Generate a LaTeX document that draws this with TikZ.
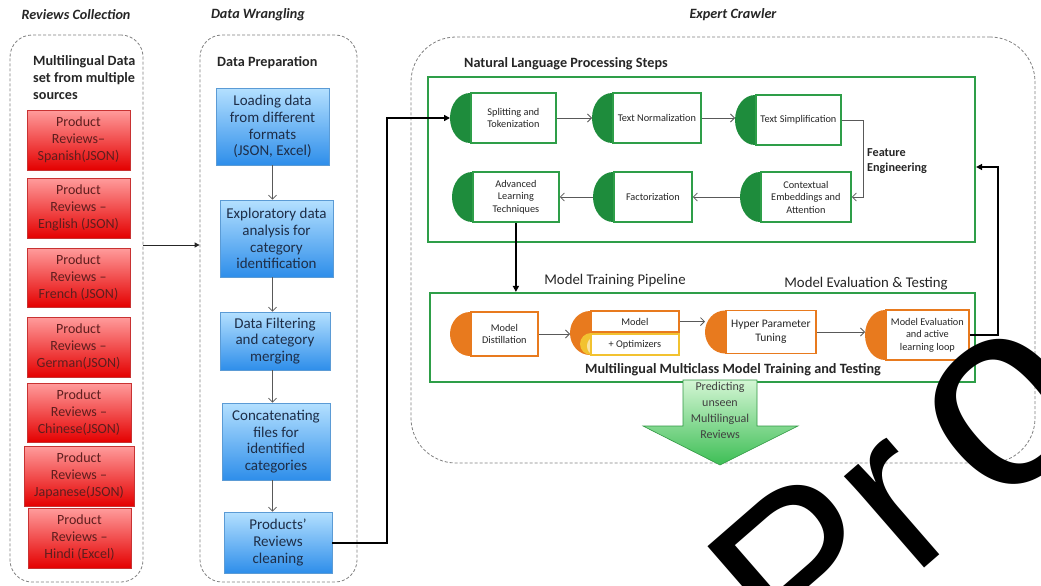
\documentclass[tikz,border=0pt]{standalone}
\usepackage{fontspec}
\setmainfont{Carlito}
\newfontfamily\wmfont{Liberation Sans}
\usetikzlibrary{arrows.meta,calc}
\definecolor{nlpG}{HTML}{2E9E48}
\definecolor{diskG}{HTML}{1E8C3C}
\definecolor{orng}{HTML}{E87A1E}
\definecolor{yllw}{HTML}{F2C230}
\definecolor{redT}{HTML}{FF9C9C}
\definecolor{redB}{HTML}{E40000}
\definecolor{redE}{HTML}{C83232}
\definecolor{redTx}{HTML}{5E1E1E}
\definecolor{bluT}{HTML}{B4E0FF}
\definecolor{bluB}{HTML}{2E8EEA}
\definecolor{bluE}{HTML}{5B9BD5}
\definecolor{bluTx}{HTML}{1E2E48}
\definecolor{grnT}{HTML}{D4F6D4}
\definecolor{grnB}{HTML}{3DBE55}
\definecolor{dashC}{HTML}{808080}
\definecolor{txtC}{HTML}{262626}
\newcommand\halfstep[8]{%
  \fill[#6] (#2,#3) ellipse [x radius=20, y radius=#5/2];
  \node[#7, minimum width=#4, minimum height=#5, anchor=west] (#1) at (#2,#3) {#8};
  \coordinate (#1L) at (#2-20,#3);
}
\begin{document}
\begin{tikzpicture}[x=1pt,y=-1pt,
  ttl/.style={font=\fontsize{14.2}{16}\selectfont\bfseries\itshape, text=txtC, inner sep=0},
  subhd/.style={font=\fontsize{14.2}{17}\selectfont\bfseries, text=txtC, align=left, inner sep=0},
  lbl/.style={font=\fontsize{14.8}{17}\selectfont, text=txtC, inner sep=0},
  dbox/.style={draw=dashC, line width=0.8pt, dash pattern=on 3pt off 2pt, rounded corners=22pt, inner sep=0},
  redbox/.style={draw=redE, line width=0.6pt, top color=redT, bottom color=redB, text=redTx,
     font=\fontsize{14}{17}\selectfont, align=center, inner sep=1pt},
  bluebox/.style={draw=bluE, line width=0.6pt, top color=bluT, bottom color=bluB, text=bluTx,
     font=\fontsize{15}{16.8}\selectfont, align=center, inner sep=1pt},
  gbox/.style={draw=nlpG, line width=1.8pt, fill=white, text=txtC,
     font=\fontsize{10.3}{12.5}\selectfont, align=center, inner sep=1pt},
  obox/.style={draw=orng, line width=1.8pt, fill=white, text=txtC,
     font=\fontsize{10.3}{12.5}\selectfont, align=center, inner sep=1pt},
  ybox/.style={draw=yllw, line width=1.8pt, fill=white, text=txtC,
     font=\fontsize{10.3}{12.5}\selectfont, align=center, inner sep=1pt},
  frame/.style={draw=nlpG, line width=2.2pt, inner sep=0},
  garr/.style={draw=black!65, line width=0.8pt, -{Straight Barb[length=4pt,width=8pt]}},
  barr/.style={draw=black!85, line width=0.9pt, -{Triangle[length=5pt,width=5pt]}},
  karr/.style={draw=black, line width=2pt, -{Triangle[length=6pt,width=6pt]}},
  wm/.style={font=\wmfont\fontsize{230}{230}\selectfont, text=black, inner sep=0}
]
\useasboundingbox (0,0) rectangle (1041,586);
\fill[white] (0,0) rectangle (1041,586);

% titles
\node[ttl] (t1) at (76,15) {Reviews Collection};
\node[ttl] (t2) at (258,15) {Data Wrangling};
\node[ttl] (t3) at (733,15) {Expert Crawler};

% dashed containers
\node[dbox, minimum width=133, minimum height=547] (colA) at (76.5,308.5) {};
\node[dbox, minimum width=157, minimum height=547] (colB) at (278.5,308.5) {};
\node[dbox, rounded corners=45pt, minimum width=624, minimum height=426] (colC) at (723,250) {};

% column headers
\node[subhd, anchor=north west] (s1) at (33,55) {Multilingual Data\\set from multiple\\sources};
\node[subhd, anchor=west] (s2) at (217,63) {Data Preparation};

% red boxes
\node[redbox, minimum width=103, minimum height=60] (r1) at (78.5,140) {Product\\Reviews--\\Spanish(JSON)};
\node[redbox, minimum width=103, minimum height=60] (r2) at (78.5,208) {Product\\Reviews --\\English (JSON)};
\node[redbox, minimum width=103, minimum height=59] (r3) at (78.5,277.5) {Product\\Reviews --\\French (JSON)};
\node[redbox, minimum width=103, minimum height=60] (r4) at (78.5,347) {Product\\Reviews --\\German(JSON)};
\node[redbox, minimum width=104, minimum height=59] (r5) at (79,412.5) {Product\\Reviews --\\Chinese(JSON)};
\node[redbox, minimum width=110, minimum height=60] (r6) at (79,476) {Product\\Reviews --\\Japanese(JSON)};
\node[redbox, minimum width=103, minimum height=60] (r7) at (79.5,538) {Product\\Reviews --\\Hindi (Excel)};

% blue boxes
\node[bluebox, minimum width=113, minimum height=77] (b1) at (272.5,126.5) {Loading data\\from different\\formats\\(JSON, Excel)};
\node[bluebox, minimum width=113, minimum height=77] (b2) at (276.5,238.5) {Exploratory data\\analysis for\\category\\identification};
\node[bluebox, minimum width=110, minimum height=58] (b3) at (275,341) {Data Filtering\\and category\\merging};
\node[bluebox, minimum width=108, minimum height=77] (b4) at (276,441.5) {Concatenating\\files for\\identified\\categories};
\node[bluebox, minimum width=108, minimum height=61] (b5) at (278,542.5) {Products’\\Reviews\\cleaning};

\draw[garr] (b1.south) -- (b1.south |- b2.north);
\draw[garr] (b2.south -| b1.south) -- (b1.south |- b3.north);
\draw[garr] (b3.south -| b1.south) -- (b1.south |- b4.north);
\draw[garr] (b4.south -| b1.south) -- (b1.south |- b5.north);

\draw[barr] ([yshift=63.5pt]colA.east) -- ([yshift=63.5pt]colB.west);

% NLP frame
\node[subhd, anchor=west] (s3) at (464,64) {Natural Language Processing Steps};
\node[frame, minimum width=547, minimum height=165] (nlp) at (701.5,159.5) {};

\halfstep{split}{470}{118}{85}{50}{diskG}{gbox}{Splitting and\\Tokenization}
\halfstep{norm}{612}{118}{88}{50}{diskG}{gbox}{Text Normalization}
\halfstep{simp}{755}{120}{85}{50}{diskG}{gbox}{Text Simplification}
\halfstep{adv}{472}{197}{86}{50}{diskG}{gbox}{Advanced\\Learning\\Techniques}
\halfstep{fact}{613}{197}{78}{50}{diskG}{gbox}{Factorization}
\halfstep{ctx}{760}{197}{90}{50}{diskG}{gbox}{Contextual\\Embeddings and\\Attention}

\draw[garr] (split.east) -- (split.east -| normL);
\draw[garr] (norm.east) -- (norm.east -| simpL);
\draw[garr] (simp.east) -- ++(22,0) |- (ctx.east);
\draw[garr] (ctxL) -- (fact.east);
\draw[garr] (factL) -- (adv.east);
\node[subhd, font=\fontsize{12.2}{15}\selectfont\bfseries, anchor=west] (fe) at (867,161) {Feature\\Engineering};

% training frame
\node[lbl] (l1) at (615,281) {Model Training Pipeline};
\node[lbl] (l2) at (866,284) {Model Evaluation \& Testing};
\node[frame, minimum width=545, minimum height=89] (trn) at (702.5,337.5) {};
\node[subhd] (l3) at (733,370) {Multilingual Multiclass Model Training and Testing};

\halfstep{dist}{470}{334}{67}{44}{orng}{obox}{Model\\Distillation}
\fill[orng] (590,333) ellipse [x radius=20, y radius=22];
\fill[yllw] (591,344) ellipse [x radius=11, y radius=11];
\fill[yllw!45] (593,346) ellipse [x radius=6, y radius=8];
\node[obox, minimum width=88, minimum height=21, anchor=south west] (mtop) at (590,333) {Model};
\node[ybox, minimum width=88, minimum height=21, anchor=north west] (mbot) at (590,333) {+ Optimizers};
\coordinate (modL) at (570,333);
\halfstep{hyp}{725}{332}{90}{43}{orng}{obox, font=\fontsize{11.5}{14}\selectfont}{Hyper Parameter\\Tuning}
\halfstep{eval}{885}{335}{83}{50}{orng}{obox}{Model Evaluation\\and active\\learning loop}

\draw[garr] (dist.east) -- (dist.east -| modL);
\draw[garr] (mtop.east) -- (mtop.east -| hypL);
\draw[garr] (hyp.east) -- (hyp.east -| evalL);

% thick connectors
\coordinate (jx) at (387,0);
\draw[karr] (b5.east) -- (b5.east -| jx) |- (splitL);
\draw[karr] (adv.south) -- (adv.south |- trn.north);
\draw[karr] (eval.east) -- ++(28,0) |- ([yshift=-7.5pt]nlp.east);

% prediction arrow
\draw[draw=grnB!80!black, line width=0.6pt, top color=grnT, bottom color=grnB]
  (683,380) -- (757,380) -- (757,426) -- (798,426) -- (720,465) -- (643,426) -- (683,426) -- cycle;
\node[font=\fontsize{12}{16}\selectfont, text=black!75, align=center] (pred) at (720,410) {Predicting\\unseen\\Multilingual\\Reviews};

% watermark
\node[wm, rotate=41, anchor=base west] (wmk) at (797,679) {Pr\kern29pt\raisebox{-5.6pt}{\fontsize{265}{265}\selectfont o}};
\end{tikzpicture}
\end{document}
